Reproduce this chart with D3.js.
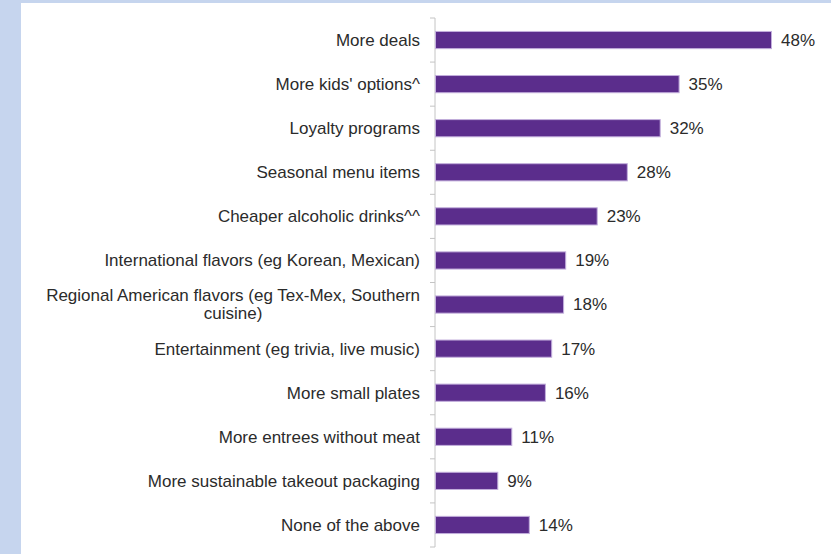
<!DOCTYPE html>
<html>
<head>
<meta charset="utf-8">
<script src="https://cdn.jsdelivr.net/npm/d3@7"></script>
<style>
  body { margin: 0; background: #c6d5ee; }
  svg { display: block; }
</style>
</head>
<body>
<div id="chart"></div>
<script>
// chart data
var categories = [
  "More deals",
  "More kids' options^",
  "Loyalty programs",
  "Seasonal menu items",
  "Cheaper alcoholic drinks^^",
  "International flavors (eg Korean, Mexican)",
  "Regional American flavors (eg Tex-Mex, Southern|cuisine)",
  "Entertainment (eg trivia, live music)",
  "More small plates",
  "More entrees without meat",
  "More sustainable takeout packaging",
  "None of the above"
]
// bar lengths as measured (unrounded), and the printed labels
var values = [48.0, 34.8, 32.1, 27.4, 23.1, 18.6, 18.3, 16.6, 15.7, 10.9, 8.9, 13.4]
var valueLabels = ["48%", "35%", "32%", "28%", "23%", "19%", "18%", "17%", "16%", "11%", "9%", "14%"]

var width = 831,
    height = 554

var font = "Arial, 'Liberation Sans', sans-serif"

var svg = d3.select("#chart")
    .append("svg")
    .attr("width", width)
    .attr("height", height)

// white panel over the blue frame
svg.append("rect")
    .attr("x", 21)
    .attr("y", 3)
    .attr("width", width - 21)
    .attr("height", height - 3)
    .attr("fill", "#ffffff")

var x = d3.scaleLinear()
    .domain([0, 50])
    .range([435, 785])

var y = d3.scaleBand()
    .domain(categories)
    .range([18, 547])
    .paddingInner(0.61)
    .paddingOuter(0.305)

var step = y.step()

// axis line + ticks between categories
svg.append("line")
    .attr("x1", x(0)).attr("x2", x(0))
    .attr("y1", 18).attr("y2", 547)
    .attr("stroke", "#c4c4c4")
    .attr("stroke-width", 1)

svg.selectAll(".tick")
    .data(d3.range(categories.length + 1))
    .enter()
    .append("line")
    .attr("class", "tick")
    .attr("x1", x(0) - 5).attr("x2", x(0))
    .attr("y1", function(i){ return 18 + i * step })
    .attr("y2", function(i){ return 18 + i * step })
    .attr("stroke", "#c4c4c4")

var rows = categories.map(function(c, i){ return {cat: c, value: values[i], label: valueLabels[i]} })

svg.selectAll(".bar")
    .data(rows)
    .enter()
    .append("rect")
    .attr("class", "bar")
    .attr("x", x(0) + 0.5)
    .attr("y", function(d){ return y(d.cat) })
    .attr("width", function(d){ return x(d.value) - x(0) })
    .attr("height", y.bandwidth())
    .attr("fill", "#5b2d8c")
    .attr("stroke", "#c2aedc")
    .attr("stroke-width", 1)

svg.selectAll(".val")
    .data(rows)
    .enter()
    .append("text")
    .attr("class", "val")
    .attr("x", function(d){ return x(d.value) + 10 })
    .attr("y", function(d){ return y(d.cat) + y.bandwidth() / 2 })
    .attr("dy", "0.35em")
    .style("font-family", font)
    .style("font-size", "17px")
    .style("fill", "#2b2b2b")
    .text(function(d){ return d.label })

// category labels, right aligned; the long one wraps and is centred
rows.forEach(function(d){
    var cy = y(d.cat) + y.bandwidth() / 2
    var lines = d.cat.split("|")
    var t = svg.append("text")
        .style("font-family", font)
        .style("font-size", "17px")
        .style("fill", "#2b2b2b")
    if (lines.length == 1) {
        t.attr("x", 420).attr("y", cy).attr("dy", "0.35em")
            .attr("text-anchor", "end")
            .text(lines[0])
    } else {
        t.attr("text-anchor", "end").attr("x", 420).attr("y", cy - 9).attr("dy", "0.35em").text(lines[0])
        var w = t.node().getComputedTextLength()
        t.attr("text-anchor", "middle").attr("x", 420 - w / 2)
        svg.append("text")
            .attr("text-anchor", "middle")
            .attr("x", 420 - w / 2)
            .attr("y", cy + 9).attr("dy", "0.35em")
            .style("font-family", font)
            .style("font-size", "17px")
            .style("fill", "#2b2b2b")
            .text(lines[1])
    }
})
</script>
</body>
</html>
